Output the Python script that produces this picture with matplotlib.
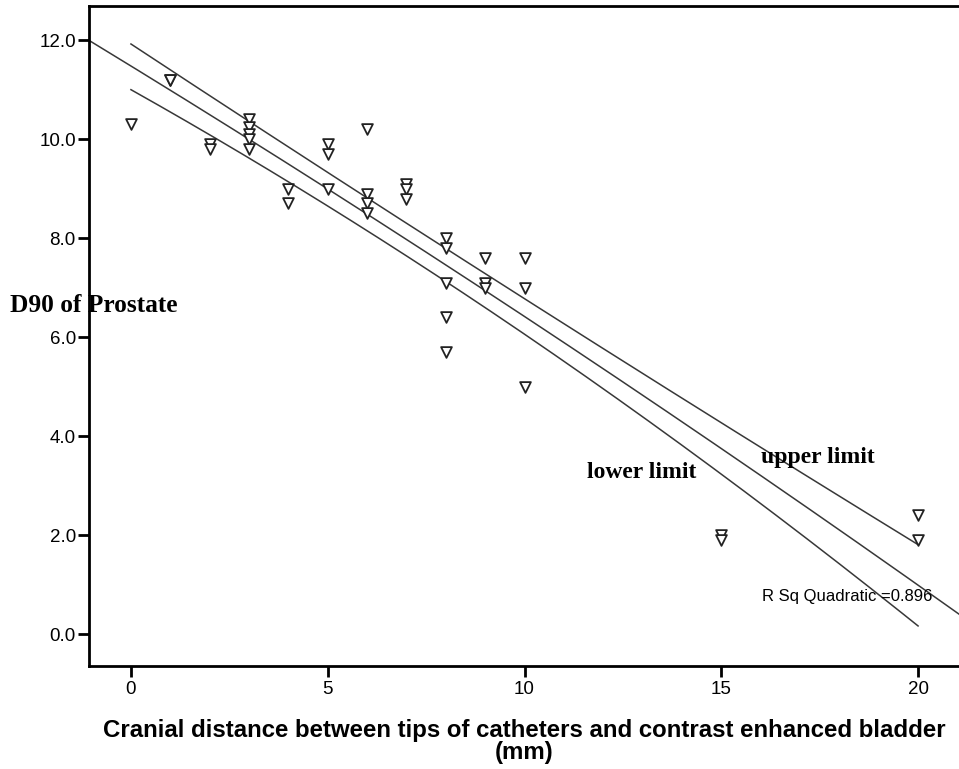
#!/usr/bin/env python

import numpy as np
import matplotlib.pyplot as plt

# cranial distance (mm) and D90 of prostate
distance = [0, 1, 1, 2, 2, 3, 3, 3, 3, 3, 4, 4, 5, 5, 5, 6, 6, 6, 6,
            7, 7, 7, 8, 8, 8, 8, 8, 9, 9, 9, 10, 10, 10, 15, 15, 20, 20]
d90 = [10.3, 11.2, 11.2, 9.9, 9.8, 10.4, 10.25, 10.1, 10.0, 9.8, 9.0, 8.7,
       9.9, 9.7, 9.0, 10.2, 8.9, 8.7, 8.5, 9.1, 9.0, 8.8, 8.0, 7.8, 7.1,
       6.4, 5.7, 7.6, 7.1, 7.0, 7.6, 7.0, 5.0, 2.0, 1.9, 2.4, 1.9]

# quadratic fit line and its limits
fit_x = [-1.066, 0, 5, 10, 15, 20, 21.04]
fit_mid = [12.0, 11.48, 8.98, 6.41, 3.77, 0.98, 0.40]
band_x = [0, 5, 10, 15, 20]
band_upper = [11.93, 9.31, 6.78, 4.28, 1.80]
band_lower = [10.98, 8.69, 6.05, 3.20, 0.18]

xticks = [0, 5, 10, 15, 20]
yticks = [0.0, 2.0, 4.0, 6.0, 8.0, 10.0, 12.0]
r2_label = 'R Sq Quadratic =0.896'

line_col = '#383838'
sans = 'Liberation Sans'
serif = 'Liberation Serif'


def smooth(x, y, lo, hi):
    # quadratic through the read points, so the curve has no kinks
    c = np.polyfit(x, y, 2)
    xs = np.linspace(lo, hi, 200)
    return xs, np.polyval(c, xs)


def main():
    fig = plt.figure(figsize=(9.59, 7.69), dpi=100)
    ax = fig.add_axes([89 / 959, 103 / 769, 1 - 89 / 959, 660 / 769])

    ax.plot(*smooth(fit_x, fit_mid, fit_x[0], fit_x[-1]),
            color=line_col, lw=1.1, zorder=2)
    ax.plot(*smooth(band_x, band_upper, band_x[0], band_x[-1]),
            color=line_col, lw=1.1, zorder=2)
    ax.plot(*smooth(band_x, band_lower, band_x[0], band_x[-1]),
            color=line_col, lw=1.1, zorder=2)

    ax.scatter(distance, d90, marker='v', s=60, facecolors='white',
               edgecolors='#222222', linewidths=1.3, zorder=3)

    ax.set_xlim(-1.066, 21.04)
    ax.set_ylim(-0.646, 12.69)
    ax.set_xticks(xticks)
    ax.set_yticks(yticks)
    ax.set_yticklabels(['%.1f' % v for v in yticks])
    ax.spines['right'].set_visible(False)
    for sp in ['left', 'bottom', 'top']:
        ax.spines[sp].set_linewidth(2)
    ax.tick_params(direction='out', length=8, width=2, labelsize=13.5)
    ax.tick_params(axis='y', pad=1.5)
    ax.tick_params(axis='x', pad=3)
    for lab in ax.get_xticklabels() + ax.get_yticklabels():
        lab.set_family(sans)

    fig.text(524 / 959, 1 - 741.5 / 769,
             'Cranial distance between tips of catheters and contrast '
             'enhanced bladder\n(mm)', fontsize=17.3, weight='bold',
             family=sans, ha='center', va='center', multialignment='center',
             linespacing=1.0)

    fig.text(10 / 959, 1 - 305 / 769, 'D90 of Prostate', fontsize=18.3,
             weight='bold', family=serif, va='center')
    ax.text(16.02, 3.56, 'upper limit', fontsize=17, weight='bold',
            family=serif, ha='left', va='center')
    ax.text(11.6, 3.27, 'lower limit', fontsize=17, weight='bold',
            family=serif, ha='left', va='center')
    ax.text(16.04, 0.75, r2_label, fontsize=12, family=sans,
            ha='left', va='center')

    plt.savefig('out.png', dpi=100)
    plt.close()


if __name__ == "__main__":
    main()
